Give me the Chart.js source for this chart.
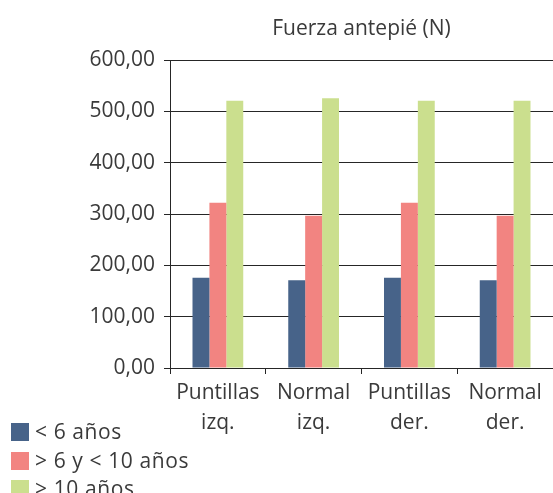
<!DOCTYPE html>
<html lang="es">
<head>
  <meta charset="UTF-8" />
  <title>Fuerza antepié (N)</title>
  <script src="https://cdn.jsdelivr.net/npm/chart.js@4.4.1/dist/chart.umd.min.js"></script>
  <style>
    html, body { margin: 0; padding: 0; background: #fff; }
    #wrap { position: relative; width: 553px; height: 493px; }
    #legend { position: absolute; left: 11px; top: 417px; font-family: "Open Sans", sans-serif; font-size: 21px; letter-spacing: 0.6px; color: #3a3a3a; }
    .item { height: 28.5px; line-height: 28.5px; white-space: nowrap; }
    .box { display: inline-block; width: 18px; height: 18px; vertical-align: -2px; margin-right: 6px; }
  </style>
</head>
<body>
  <div id="wrap">
    <canvas id="chart" width="553" height="493"></canvas>
    <div id="legend"></div>
  </div>
  <script>
    // data
    const categories = [["Puntillas", "izq."], ["Normal", "izq."], ["Puntillas", "der."], ["Normal", "der."]];
    const seriesNames = ["< 6 años", "> 6 y < 10 años", "> 10 años"];
    const menos6 = [176, 171, 176, 171];
    const entre6y10 = [322, 297, 322, 297];
    const mas10 = [521, 526, 521, 521];
    const colors = ["#476389", "#f28481", "#cbdf8e"];
    const titleText = "Fuerza antepié (N)";

    const textColor = "#3a3a3a";
    const lineColor = "#262626";
    const font = { family: "'Open Sans', sans-serif", size: 21 };

    const chart = new Chart(document.getElementById("chart").getContext("2d"), {
      type: "bar",
      data: {
        labels: categories,
        datasets: [menos6, entre6y10, mas10].map((d, i) => ({
          label: seriesNames[i],
          data: d,
          backgroundColor: colors[i],
          borderWidth: 0,
          categoryPercentage: 0.53,
          barPercentage: 1
        }))
      },
      options: {
        responsive: false,
        animation: false,
        layout: { padding: { left: 0, right: 0, top: 4, bottom: 0 } },
        plugins: {
          legend: { display: false },
          tooltip: { enabled: false },
          title: {
            display: true,
            text: titleText,
            fullSize: false,
            color: textColor,
            font: { family: "'Open Sans', sans-serif", size: 21, weight: "normal" },
            padding: { top: 12, bottom: 19 }
          }
        },
        scales: {
          x: {
            grid: { display: true, drawOnChartArea: false, drawTicks: true, tickLength: 6, color: lineColor, offset: true },
            border: { display: true, color: lineColor },
            ticks: { color: textColor, font: { ...font, lineHeight: 1.43 }, padding: 4, maxRotation: 0, autoSkip: false },
            afterFit: (s) => { s.height = 125; }
          },
          y: {
            min: 0,
            max: 600,
            grid: { color: lineColor, tickLength: 6 },
            border: { display: true, color: lineColor },
            ticks: {
              stepSize: 100,
              color: textColor,
              font: font,
              padding: 9,
              callback: (v) => v.toFixed(2).replace(".", ",")
            },
            afterFit: (s) => { s.width = 170; }
          },
          y2: {
            position: "right",
            display: true,
            grid: { drawOnChartArea: false, drawTicks: false },
            border: { display: true, color: lineColor },
            ticks: { display: false }
          }
        }
      }
    });

    // legend as html, stacked in the lower left corner
    const legend = document.getElementById("legend");
    seriesNames.forEach((name, i) => {
      const row = document.createElement("div");
      row.className = "item";
      const box = document.createElement("span");
      box.className = "box";
      box.style.background = colors[i];
      row.appendChild(box);
      row.appendChild(document.createTextNode(name));
      legend.appendChild(row);
    });
  </script>
</body>
</html>
